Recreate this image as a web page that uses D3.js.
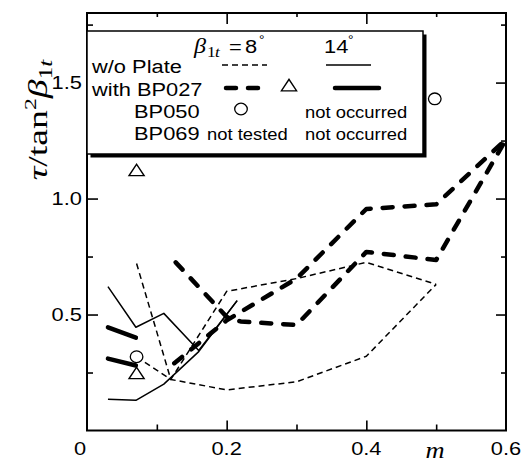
<!DOCTYPE html>
<html>
<head>
<meta charset="utf-8">
<script src="https://cdn.jsdelivr.net/npm/d3@7"></script>
<style>
  body { margin: 0; background: #fff; }
  svg { display: block; }
</style>
</head>
<body>
<div id="chart"></div>
<script>
// values (m vs tau/tan^2 beta_1t)
// w/o plate, beta = 8 deg (thin dashed, two branches)
const mPlain8a = [0.071, 0.12, 0.2, 0.3, 0.4, 0.5];
const tauPlain8a = [0.72, 0.22, 0.6, 0.655, 0.725, 0.63];
const mPlain8b = [0.071, 0.12, 0.2, 0.3, 0.4, 0.5];
const tauPlain8b = [0.318, 0.22, 0.175, 0.21, 0.32, 0.63];
// w/o plate, beta = 14 deg (thin solid)
const mPlain14a = [0.03, 0.07, 0.11, 0.16, 0.215];
const tauPlain14a = [0.62, 0.445, 0.505, 0.345, 0.56];
const mPlain14b = [0.03, 0.07, 0.11, 0.16, 0.215];
const tauPlain14b = [0.135, 0.13, 0.2, 0.34, 0.56];
// with BP027, beta = 8 deg (thick dashed)
const mBP027_8a = [0.127, 0.2, 0.22, 0.3, 0.4, 0.5, 0.6];
const tauBP027_8a = [0.725, 0.49, 0.47, 0.455, 0.77, 0.735, 1.255];
const mBP027_8b = [0.125, 0.2, 0.3, 0.4, 0.5, 0.6];
const tauBP027_8b = [0.29, 0.475, 0.655, 0.955, 0.975, 1.255];
// with BP027, beta = 14 deg (thick solid)
const mBP027_14a = [0.03, 0.07];
const tauBP027_14a = [0.445, 0.40];
const mBP027_14b = [0.03, 0.07];
const tauBP027_14b = [0.31, 0.28];
// single points
const mTri = [0.071, 0.071];
const tauTri = [0.24, 1.115];
const mCirc = [0.071, 0.498];
const tauCirc = [0.318, 1.43];
// ticks
const xMajor = [0, 0.2, 0.4, 0.6];
const xMinor = [0.1, 0.3, 0.5];
const yMajor = [0.5, 1.0, 1.5];
const yMinor = [0.25, 0.75, 1.25, 1.75];

const W = 529, H = 465;
const SX = 1.15; // text in the figure is slightly wide
const SANS = "'Liberation Sans', Arial, sans-serif";
const SERIF = "'Liberation Serif', 'Times New Roman', serif";

const svg = d3.select("#chart").append("svg")
    .attr("width", W).attr("height", H);

const x = d3.scaleLinear().domain([0, 0.6]).range([87, 506]);
const y = d3.scaleLinear().domain([0, 1.8]).range([430.5, 13]);

function txt(g, px, py, s, size, anchor, fam, italic) {
    return g.append("text")
        .attr("transform", `translate(${px},${py}) scale(${SX},1)`)
        .attr("font-family", fam || SANS)
        .attr("font-style", italic ? "italic" : "normal")
        .attr("font-size", size)
        .attr("text-anchor", anchor || "start")
        .attr("fill", "#000")
        .text(s);
}

const zip = (ms, ts) => ms.map((m, i) => [m, ts[i]]);
const line = d3.line().x(d => x(d[0])).y(d => y(d[1]));

const styles = {
    thinDash: { w: 1.5, dash: "6,4", cap: "butt" },
    thin: { w: 1.5, dash: null, cap: "butt" },
    thickDash: { w: 4.5, dash: "10,12", cap: "round" },
    thick: { w: 4.5, dash: null, cap: "round" }
};

function drawPath(g, d, st) {
    g.append("path")
        .attr("d", d)
        .attr("fill", "none")
        .attr("stroke", "#000")
        .attr("stroke-width", st.w)
        .attr("stroke-linecap", st.cap)
        .attr("stroke-linejoin", "round")
        .attr("stroke-dasharray", st.dash);
}

// ---- axes (ticks point inward) ----
const axes = svg.append("g");
function tickAxis(gen, tr) {
    const g = axes.append("g").attr("transform", tr).call(gen);
    g.select(".domain").remove();
    g.selectAll(".tick line").attr("stroke", "#000").attr("stroke-width", 1.6);
    g.selectAll(".tick text").remove();
}
tickAxis(d3.axisBottom(x).tickValues(xMajor.slice(1, -1)).tickSize(-10), `translate(0,${y(0)})`);
tickAxis(d3.axisBottom(x).tickValues(xMinor).tickSize(-6), `translate(0,${y(0)})`);
tickAxis(d3.axisTop(x).tickValues(xMajor.slice(1, -1)).tickSize(-11), `translate(0,${y(1.8)})`);
tickAxis(d3.axisTop(x).tickValues(xMinor).tickSize(-4), `translate(0,${y(1.8)})`);
tickAxis(d3.axisLeft(y).tickValues(yMajor).tickSize(-11), `translate(${x(0)},0)`);
tickAxis(d3.axisLeft(y).tickValues(yMinor).tickSize(-6), `translate(${x(0)},0)`);
tickAxis(d3.axisRight(y).tickValues(yMajor).tickSize(-10), `translate(${x(0.6)},0)`);
tickAxis(d3.axisRight(y).tickValues(yMinor).tickSize(-5), `translate(${x(0.6)},0)`);

axes.append("rect")
    .attr("x", x(0)).attr("y", y(1.8))
    .attr("width", x(0.6) - x(0)).attr("height", y(0) - y(1.8))
    .attr("fill", "none").attr("stroke", "#000").attr("stroke-width", 2);

// tick labels
xMajor.forEach(v => {
    const px = v === 0 ? x(v) - 7 : x(v);
    txt(axes, px, 455, v === 0 ? "0" : d3.format(".1f")(v), 19, "middle");
});
yMajor.forEach(v => txt(axes, 82, y(v) + 6.8, d3.format(".1f")(v), 19, "end"));

// axis titles
txt(axes, 435, 458, "m", 23, "middle", SERIF, true);

const yl = axes.append("text")
    .attr("transform", "translate(47,120) rotate(-90) scale(1.4,1)")
    .attr("font-family", SERIF).attr("font-size", 27)
    .attr("text-anchor", "middle");
yl.append("tspan").attr("font-style", "italic").text("τ");
yl.append("tspan").text("/tan");
yl.append("tspan").attr("font-size", 17).attr("dy", -11).text("2");
yl.append("tspan").attr("font-style", "italic").attr("dy", 11).text("β");
yl.append("tspan").attr("font-size", 18).attr("dy", 5).text("1");
yl.append("tspan").attr("font-size", 18).attr("font-style", "italic").text("t");

// ---- data ----
const plot = svg.append("g");
drawPath(plot, line(zip(mPlain8a, tauPlain8a)), styles.thinDash);
drawPath(plot, line(zip(mPlain8b, tauPlain8b)), styles.thinDash);
drawPath(plot, line(zip(mPlain14a, tauPlain14a)), styles.thin);
drawPath(plot, line(zip(mPlain14b, tauPlain14b)), styles.thin);
drawPath(plot, line(zip(mBP027_8a, tauBP027_8a)), styles.thickDash);
drawPath(plot, line(zip(mBP027_8b, tauBP027_8b)), styles.thickDash);
drawPath(plot, line(zip(mBP027_14a, tauBP027_14a)), styles.thick);
drawPath(plot, line(zip(mBP027_14b, tauBP027_14b)), styles.thick);

const tri = d3.symbol().type(d3.symbolTriangle).size(75);
plot.selectAll(".tri").data(zip(mTri, tauTri)).join("path")
    .attr("class", "tri")
    .attr("d", tri)
    .attr("transform", d => `translate(${x(d[0])},${y(d[1])}) scale(1.15,1)`)
    .attr("fill", "#fff").attr("stroke", "#000").attr("stroke-width", 1.3);
plot.selectAll(".circ").data(zip(mCirc, tauCirc)).join("ellipse")
    .attr("class", "circ")
    .attr("cx", d => x(d[0])).attr("cy", d => y(d[1]))
    .attr("rx", 6.3).attr("ry", 5.8)
    .attr("fill", "#fff").attr("stroke", "#000").attr("stroke-width", 1.3);

// ---- legend ----
const lg = svg.append("g");
lg.append("rect").attr("x", 90.5).attr("y", 34.5).attr("width", 336).attr("height", 123).attr("fill", "#000");
lg.append("rect").attr("x", 87).attr("y", 31).attr("width", 336).attr("height", 123)
    .attr("fill", "#fff").attr("stroke", "#000").attr("stroke-width", 1.5);

txt(lg, 194, 53, "β", 21, "start", SERIF, true);
txt(lg, 207, 57, "1", 15, "start", SERIF, false);
txt(lg, 215, 57, "t", 15, "start", SERIF, true);
txt(lg, 229, 53, "=", 19);
txt(lg, 245, 53, "8", 19);
txt(lg, 259, 44, "°", 12);
txt(lg, 324, 53, "14", 19);
txt(lg, 348, 44, "°", 12);

txt(lg, 92, 73, "w/o Plate", 19);
txt(lg, 92, 96, "with BP027", 19);
txt(lg, 134, 118, "BP050", 19);
txt(lg, 134, 140, "BP069", 19);
txt(lg, 207, 140, "not tested", 16);
txt(lg, 305, 118, "not occurred", 16);
txt(lg, 305, 140, "not occurred", 16);

drawPath(lg, d3.line()([[222, 65], [267, 65]]), styles.thinDash);
drawPath(lg, d3.line()([[326, 65], [371, 65]]), styles.thin);
drawPath(lg, d3.line()([[226, 88], [266, 88]]), styles.thickDash);
drawPath(lg, d3.line()([[335, 88], [379, 88]]), styles.thick);
lg.append("path").attr("d", tri)
    .attr("transform", "translate(289,87) scale(1.15,1)")
    .attr("fill", "#fff").attr("stroke", "#000").attr("stroke-width", 1.3);
lg.append("ellipse").attr("cx", 241).attr("cy", 109).attr("rx", 6.3).attr("ry", 5.8)
    .attr("fill", "#fff").attr("stroke", "#000").attr("stroke-width", 1.3);
</script>
</body>
</html>
